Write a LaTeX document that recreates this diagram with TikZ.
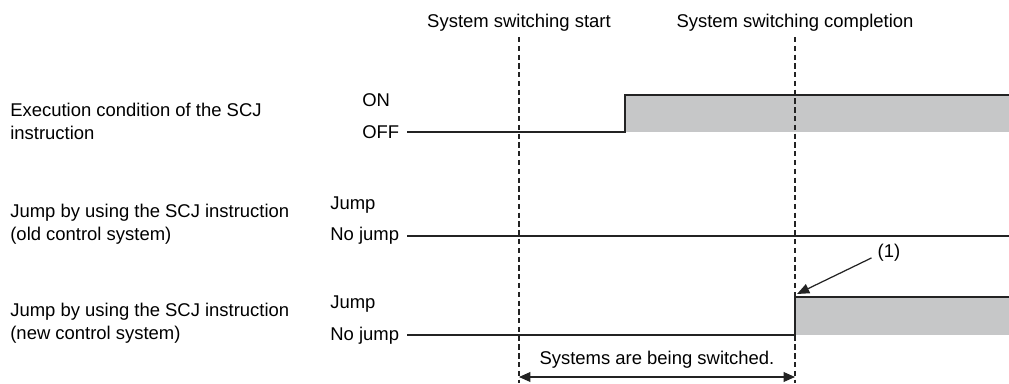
\documentclass[tikz,border=0pt]{standalone}
\usepackage{fontspec}
\setmainfont{Liberation Sans}
\usepackage{xcolor}
\usetikzlibrary{positioning,arrows.meta}
\definecolor{sigfill}{RGB}{198,199,200}
\definecolor{sigline}{RGB}{35,35,35}

\begin{document}
\begin{tikzpicture}[x=0.02cm,y=-0.02cm,font=\fontsize{10.5}{13}\selectfont,
  lbl/.style={align=left,anchor=west,inner sep=0pt},
  sig/.style={draw=sigline,line width=0.7pt},
  tline/.style={draw=sigline,line width=0.6pt,dash pattern=on 3pt off 2pt},
  tip/.style={-{Triangle[length=7pt,width=5.6pt]}},
  span/.style={{Triangle[length=6.5pt,width=5.6pt]}-{Triangle[length=6.5pt,width=5.6pt]}}]
\useasboundingbox (0,0) rectangle (1009,383);
% time marks
\node[inner sep=0pt] (start) at (519,23) {System switching start};
\node[inner sep=0pt] (done) at (795,23) {System switching completion};
% signal names and levels
\node[lbl] (exec) at (10,121.5) {Execution condition of the SCJ\\instruction};
\node[lbl] (on) at (362,100) {ON};
\node[lbl] (off) at (362,132) {OFF};
\node[lbl] (oldsys) at (10,224) {Jump by using the SCJ instruction\\(old control system)};
\node[lbl] (oldjmp) at (330,205) {Jump};
\node[lbl] (oldno) at (330,236) {No jump};
\node[lbl] (newsys) at (10,323.5) {Jump by using the SCJ instruction\\(new control system)};
\node[lbl] (newjmp) at (330,304) {Jump};
\node[lbl] (newno) at (330,336) {No jump};
% waveforms
\fill[sigfill] (625,95) rectangle (1009,132);
\draw[sig] (407,132) -- (625,132) -- (625,95) -- (1009,95);
\draw[sig] (407,236) -- (1009,236);
\fill[sigfill] (795,297) rectangle (1009,335);
\draw[sig] (407,335) -- (795,335) -- (795,297) -- (1009,297);
% switching window
\coordinate (t1) at (519,37);
\coordinate (t2) at (795,37);
\draw[tline] (t1) -- (t1 |- 0,383);
\draw[tline] (t2) -- (t2 |- 0,383);
\node[inner sep=0pt] (busy) at (657,360) {Systems are being switched.};
\draw[sig,span] (t1 |- 0,377) -- (t2 |- 0,377);
% note
\node (one) at (889,253) {(1)};
\coordinate (rise) at (797,294);
\draw[sig,tip] ([yshift=-2.8pt]one.west) -- (rise);
\end{tikzpicture}
\end{document}
